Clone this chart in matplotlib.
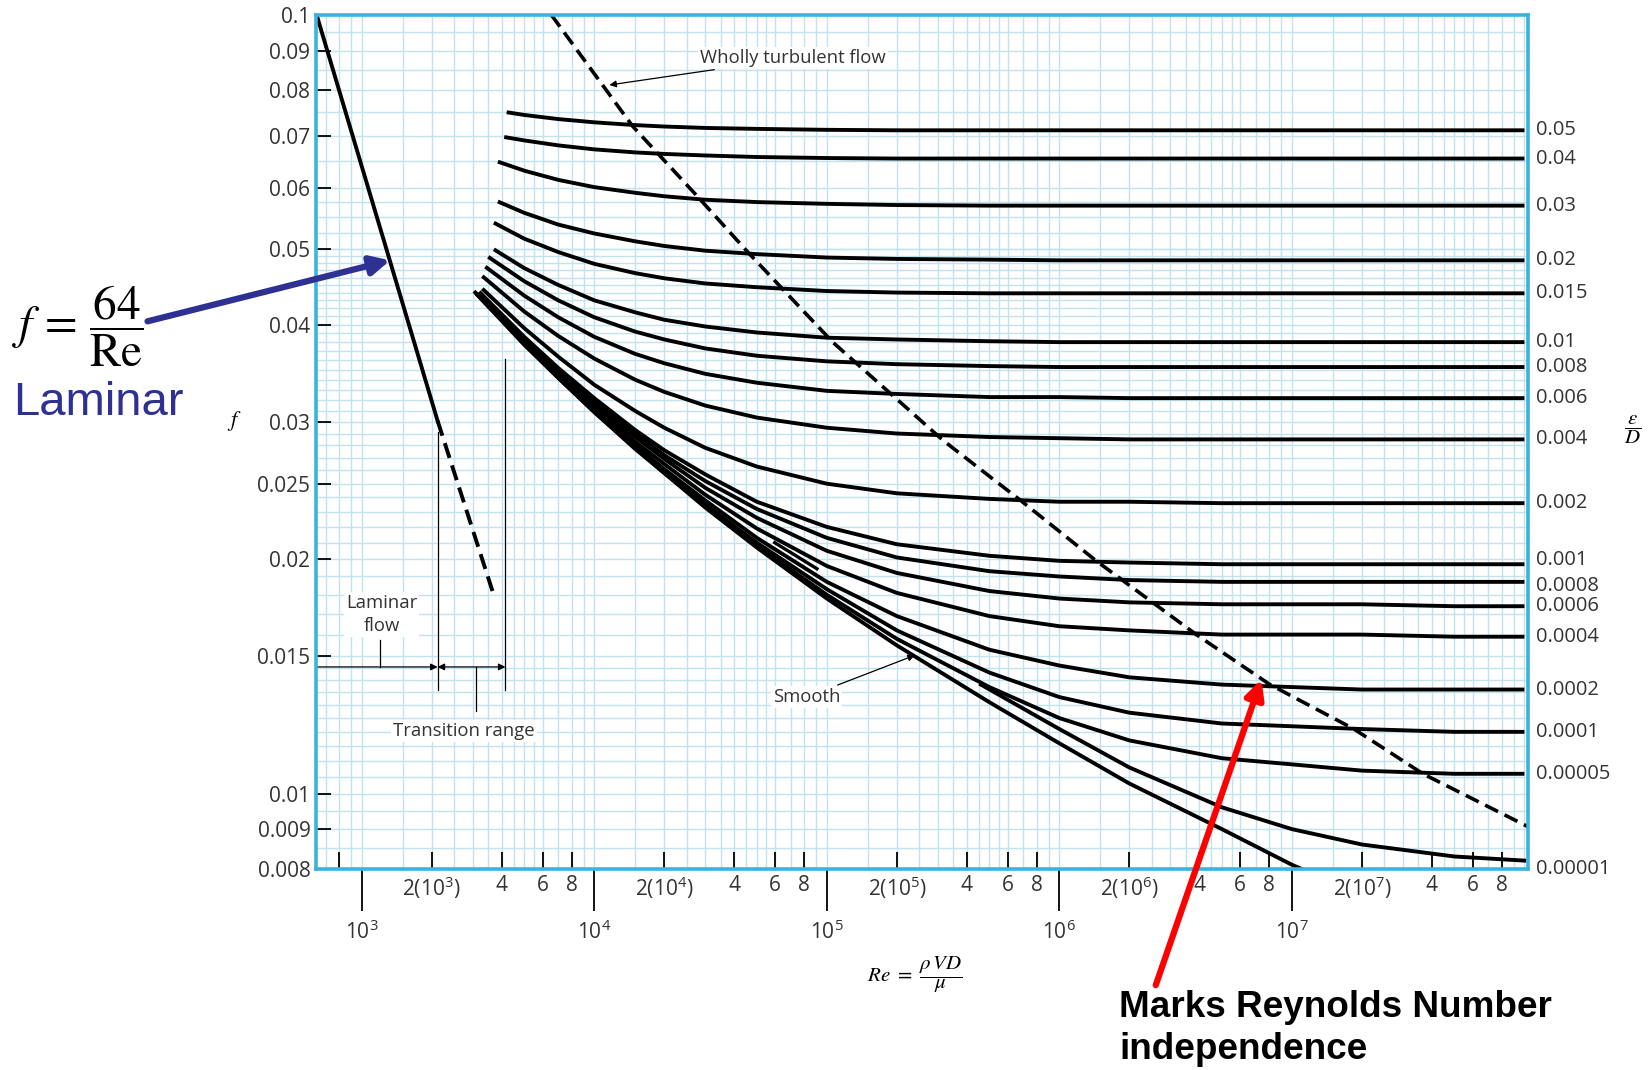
import numpy as np
import matplotlib.pyplot as plt
from matplotlib.ticker import FixedLocator, FixedFormatter, NullLocator

plt.rcParams['font.family'] = ['Open Sans', 'DejaVu Sans']
plt.rcParams['mathtext.fontset'] = 'custom'
plt.rcParams['mathtext.rm'] = 'Open Sans'
plt.rcParams['mathtext.it'] = 'Open Sans:italic'

# friction factor, one row per relative roughness
eps_d = ['0.05', '0.04', '0.03', '0.02', '0.015', '0.01', '0.008', '0.006', '0.004',
         '0.002', '0.001', '0.0008', '0.0006', '0.0004', '0.0002', '0.0001', '0.00005']
re_first = [4200, 4100, 3850, 3850, 3700, 3700, 3500, 3400, 3300,
            3300, 3200, 3200, 3200, 3150, 3150, 3100, 3100]
f_first = [0.0750, 0.0697, 0.0648, 0.0576, 0.0541, 0.0500, 0.0489, 0.0475, 0.0462,
           0.0445, 0.0441, 0.0440, 0.0438, 0.0439, 0.0438, 0.0439, 0.0439]
re_grid = [5e3, 7e3, 1e4, 1.5e4, 2e4, 3e4, 5e4, 1e5, 2e5, 5e5, 1e6, 2e6, 5e6, 1e7, 2e7, 5e7, 1e8]
f_table = [
    [.0744, .0735, .0728, .0722, .0719, .0716, .0714, .0712, .0711, .0711, .0711, .0711, .0711, .0711, .0711, .0711, .0711],
    [.0690, .0680, .0672, .0666, .0663, .0660, .0657, .0655, .0654, .0654, .0654, .0654, .0654, .0654, .0654, .0654, .0654],
    [.0631, .0614, .0601, .0591, .0585, .0579, .0575, .0572, .0570, .0569, .0569, .0569, .0569, .0569, .0569, .0569, .0569],
    [.0557, .0538, .0524, .0512, .0505, .0498, .0493, .0488, .0486, .0485, .0484, .0484, .0484, .0484, .0484, .0484, .0484],
    [.0516, .0496, .0479, .0466, .0459, .0452, .0447, .0442, .0440, .0439, .0439, .0439, .0439, .0439, .0439, .0439, .0439],
    [.0473, .0450, .0430, .0415, .0406, .0398, .0391, .0385, .0383, .0381, .0380, .0380, .0380, .0380, .0380, .0380, .0380],
    [.0455, .0430, .0409, .0392, .0383, .0373, .0365, .0359, .0356, .0354, .0353, .0353, .0353, .0353, .0353, .0353, .0353],
    [.0436, .0409, .0386, .0367, .0357, .0346, .0337, .0329, .0326, .0323, .0323, .0322, .0322, .0322, .0322, .0322, .0322],
    [.0416, .0387, .0362, .0340, .0328, .0315, .0304, .0295, .0290, .0287, .0286, .0285, .0285, .0285, .0285, .0285, .0285],
    [.0396, .0364, .0335, .0310, .0295, .0278, .0263, .0250, .0243, .0239, .0237, .0237, .0236, .0236, .0236, .0236, .0236],
    [.0386, .0352, .0322, .0293, .0276, .0257, .0237, .0220, .0209, .0202, .0199, .0198, .0197, .0197, .0197, .0197, .0197],
    [.0384, .0350, .0319, .0290, .0272, .0252, .0232, .0213, .0201, .0193, .0190, .0188, .0187, .0187, .0187, .0187, .0187],
    [.0382, .0348, .0316, .0287, .0269, .0247, .0226, .0205, .0192, .0182, .0178, .0176, .0175, .0175, .0175, .0174, .0174],
    [.0381, .0345, .0314, .0283, .0265, .0242, .0219, .0196, .0181, .0169, .0164, .0162, .0160, .0160, .0160, .0159, .0159],
    [.0379, .0343, .0311, .0280, .0261, .0238, .0213, .0187, .0169, .0153, .0146, .0141, .0138, .0137, .0136, .0136, .0136],
    [.0378, .0342, .0310, .0279, .0259, .0235, .0210, .0183, .0162, .0143, .0133, .0127, .0123, .0122, .0121, .0120, .0120],
    [.0378, .0342, .0309, .0278, .0258, .0234, .0208, .0180, .0158, .0137, .0125, .0117, .0111, .0109, .0107, .0106, .0106],
]
# 0.00001 leaves the smooth curve near Re = 4.6e5
re_e1 = [4.6e5, 1e6, 2e6, 5e6, 1e7, 2e7, 5e7, 1e8]
f_e1 = [0.0138, 0.0121, 0.0108, 0.0096, 0.0090, 0.0086, 0.0083, 0.0082]
re_smooth = [3080, 5e3, 7e3, 1e4, 1.5e4, 2e4, 3e4, 5e4, 1e5, 2e5, 5e5, 1e6, 2e6, 5e6, 1e7, 1.1e7]
f_smooth = [.0440, .0377, .0342, .0309, .0277, .0258, .0233, .0207, .0178, .0155, .0131, .0116, .0103, .0090, .0081, .0080]
re_seg = [5.97e4, 9.07e4]
f_seg = [0.0210, 0.01944]

re_lam = [640, 2120]
f_lam = [0.100, 0.0301]
re_lam_dash = [2120, 3650]
f_lam_dash = [0.0301, 0.0182]

re_wt = [6540, 14600, 27300, 46000, 1.06e5, 3.17e5, 6.93e5, 1.44e6, 3.88e6, 8.05e6, 1.85e7, 3.66e7, 1.04e8]
f_wt = [0.100, 0.0720, 0.0588, 0.0495, 0.0380, 0.0284, 0.0237, 0.0199, 0.0160, 0.0138, 0.0121, 0.0106, 0.00906]

y_ticks = [0.008, 0.009, 0.01, 0.015, 0.02, 0.025, 0.03, 0.04, 0.05, 0.06, 0.07, 0.08, 0.09, 0.1]
y_ticklabels = ['0.008', '0.009', '0.01', '0.015', '0.02', '0.025', '0.03', '0.04', '0.05',
                '0.06', '0.07', '0.08', '0.09', '0.1']
x_major = [1e3, 1e4, 1e5, 1e6, 1e7]
x_major_labels = ['$10^3$', '$10^4$', '$10^5$', '$10^6$', '$10^7$']

grid_c = '#c2e2ef'
frame_c = '#3bb3dc'
blue = '#2e3192'
txt_c = '#333333'

fig = plt.figure(figsize=(16.52, 10.70), dpi=100)
ax = fig.add_axes([0.1913, 0.1879, 0.7337, 0.7981])
ax.set_xscale('log')
ax.set_yscale('log')
ax.set_xlim(636, 1.037e8)
ax.set_ylim(0.008, 0.1)

# graph paper
for d in [100, 1e3, 1e4, 1e5, 1e6, 1e7, 1e8]:
    for m in [1, 1.5, 2, 2.5, 3, 3.5, 4, 4.5, 5, 5.5, 6, 7, 8, 9]:
        ax.axvline(d * m, color=grid_c, lw=1.0, zorder=0)
hl = list(np.arange(0.0085, 0.0100, 0.0005)) + list(np.arange(0.010, 0.015, 0.0005)) + \
    list(np.arange(0.015, 0.040, 0.001)) + list(np.arange(0.040, 0.050, 0.001)) + \
    list(np.arange(0.050, 0.060, 0.0025)) + list(np.arange(0.060, 0.100, 0.005))
for v in hl:
    ax.axhline(v, color=grid_c, lw=1.0, zorder=0)

for sp in ax.spines.values():
    sp.set_color(frame_c)
    sp.set_linewidth(2.6)
    sp.set_zorder(5)

# crowded labels on the right get nudged apart (points)
nudge = {'0.001': 3, '0.0008': -3}

# curves
for i, lab in enumerate(eps_d):
    ax.plot([re_first[i]] + re_grid, [f_first[i]] + f_table[i], color='black', lw=2.8,
            solid_capstyle='butt', zorder=3)
    ax.annotate(lab, xy=(1.0, f_table[i][-1]), xycoords=('axes fraction', 'data'),
                xytext=(6, nudge.get(lab, 0)), textcoords='offset points', va='center',
                ha='left', fontsize=14.5, color=txt_c, annotation_clip=False)
ax.plot(re_e1, f_e1, color='black', lw=2.8, zorder=3)
ax.annotate('0.00001', xy=(1.0, 0.008), xycoords=('axes fraction', 'data'),
            xytext=(6, 0), textcoords='offset points', va='center', ha='left',
            fontsize=14.5, color=txt_c, annotation_clip=False)
ax.plot(re_smooth, f_smooth, color='black', lw=2.8, zorder=3)
ax.plot(re_seg, f_seg, color='black', lw=2.4, zorder=3)

ax.plot(re_lam, f_lam, color='black', lw=2.8, zorder=3)
ax.plot(re_lam_dash, f_lam_dash, color='black', lw=2.8, dashes=(4, 2), zorder=3)
ax.plot(re_wt, f_wt, color='black', lw=2.6, dashes=(4, 2), zorder=3)

# ticks
ax.xaxis.set_major_locator(FixedLocator(x_major))
ax.xaxis.set_major_formatter(FixedFormatter(x_major_labels))
minor_pos = [800]
minor_lab = ['']
for d in [1e3, 1e4, 1e5, 1e6, 1e7]:
    p = int(round(np.log10(d)))
    for m in [2, 4, 6, 8]:
        minor_pos.append(d * m)
        minor_lab.append('$2(10^{%d})$' % p if m == 2 else str(m))
ax.xaxis.set_minor_locator(FixedLocator(minor_pos))
ax.xaxis.set_minor_formatter(FixedFormatter(minor_lab))
ax.tick_params(axis='x', which='major', direction='out', length=30, width=1.3,
               color='black', pad=7, labelsize=15, labelcolor=txt_c)
ax.tick_params(axis='x', which='minor', direction='in', length=12, width=1.3,
               color='black', pad=4, labelsize=15, labelcolor=txt_c)
ax.yaxis.set_major_locator(FixedLocator(y_ticks))
ax.yaxis.set_major_formatter(FixedFormatter(y_ticklabels))
ax.yaxis.set_minor_locator(NullLocator())
ax.tick_params(axis='y', which='major', direction='in', length=11, width=1.3,
               color='black', pad=4, labelsize=15, labelcolor=txt_c)

# flow regime annotations
box = dict(facecolor='white', edgecolor='none', pad=1.5)
ax.plot([2120, 2120], [0.0136, 0.0291], color='black', lw=0.9, zorder=4)
ax.plot([4150, 4150], [0.0136, 0.0362], color='black', lw=0.9, zorder=4)
ax.annotate('', xy=(2120, 0.01454), xytext=(636, 0.01454),
            arrowprops=dict(arrowstyle='-|>', color='black', lw=0.9, mutation_scale=10,
                            shrinkA=0, shrinkB=0), zorder=4)
ax.annotate('', xy=(4150, 0.01454), xytext=(2120, 0.01454),
            arrowprops=dict(arrowstyle='<|-|>', color='black', lw=0.9, mutation_scale=10,
                            shrinkA=0, shrinkB=0), zorder=4)
ax.plot([1194, 1194], [0.01454, 0.01574], color='black', lw=0.9, zorder=4)
ax.plot([3115, 3115], [0.01454, 0.01275], color='black', lw=0.9, zorder=4)
ax.text(1219, 0.01700, 'Laminar\nflow', ha='center', va='center', fontsize=13.3,
        color=txt_c, linespacing=1.35, bbox=box, zorder=4)
ax.text(2752, 0.01202, 'Transition range', ha='center', va='center', fontsize=13.3,
        color=txt_c, bbox=box, zorder=4)
ax.annotate('Smooth', xy=(2.39e5, 0.01505), xytext=(8.17e4, 0.0133), ha='center', va='center',
            fontsize=13.3, color=txt_c, bbox=box, zorder=4,
            arrowprops=dict(arrowstyle='-|>', color='black', lw=0.9, mutation_scale=10,
                            shrinkA=2, shrinkB=0))
ax.annotate('Wholly turbulent flow', xy=(11610, 0.0813), xytext=(7.13e4, 0.0880),
            ha='center', va='center', fontsize=13.3, color=txt_c, bbox=box, zorder=4,
            arrowprops=dict(arrowstyle='-|>', color='black', lw=0.9, mutation_scale=10,
                            shrinkA=2, shrinkB=0))

# axis titles
fig.text(0.1416, 0.6062, '$f$', math_fontfamily='stix', fontsize=16, ha='center', va='center')
fig.text(0.5536, 0.0892, r'$Re\ =\ \dfrac{\rho\, VD}{\mu}$', math_fontfamily='stix',
         fontsize=15, ha='center', va='center')
fig.text(0.9885, 0.598, r'$\dfrac{\epsilon}{D}$', math_fontfamily='stix', fontsize=15,
         ha='center', va='center')

# slide call-outs
fig.text(0.0072, 0.6948, r'$f\, =\, \dfrac{64}{\mathrm{Re}}$', math_fontfamily='stix',
         fontsize=34, ha='left', va='center')
fig.text(0.0077, 0.6238, 'Laminar', family='Liberation Sans', fontsize=34, color=blue,
         ha='left', va='center')
ax.annotate('', xy=(1325, 0.0484), xytext=(0.0893, 0.6997), textcoords='figure fraction',
            arrowprops=dict(arrowstyle='-|>', color=blue, lw=4.5, mutation_scale=28,
                            shrinkA=0, shrinkB=0), annotation_clip=False, zorder=6)
ax.annotate('', xy=(7.4e6, 0.01402), xytext=(0.6996, 0.0793), textcoords='figure fraction',
            arrowprops=dict(arrowstyle='-|>', color='red', lw=4.5, mutation_scale=28,
                            shrinkA=0, shrinkB=0), annotation_clip=False, zorder=6)
fig.text(0.6773, 0.0385, 'Marks Reynolds Number\nindependence', family='Liberation Sans',
         fontsize=26.6, fontweight='bold', ha='left', va='center', linespacing=1.25)

fig.savefig('out.png', dpi=100)
